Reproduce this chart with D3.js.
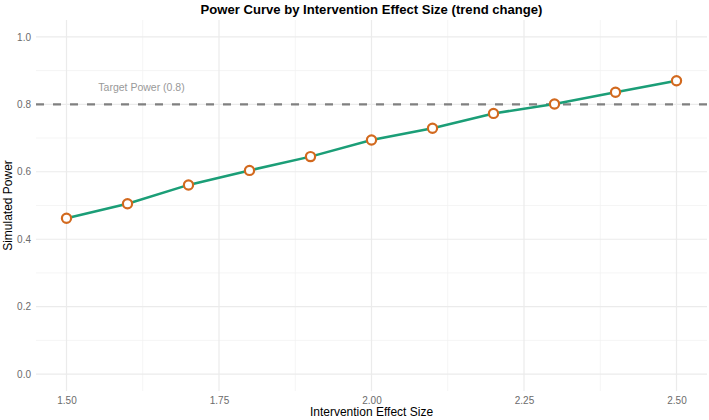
<!DOCTYPE html>
<html>
<head>
<meta charset="utf-8">
<script src="https://cdn.jsdelivr.net/npm/d3@7"></script>
<style>
  body { margin: 0; background: #fff; }
  svg { display: block; font-family: "Liberation Sans", Arial, sans-serif; }
</style>
</head>
<body>
<svg id="chart" width="709" height="420"></svg>
<script>
// effect sizes and simulated power values
var effectSizes = [1.5, 1.6, 1.7, 1.8, 1.9, 2.0, 2.1, 2.2, 2.3, 2.4, 2.5];
var powerValues = [0.462, 0.505, 0.561, 0.604, 0.645, 0.694, 0.729, 0.773, 0.801, 0.836, 0.870];
var xTicks = [1.5, 1.75, 2.0, 2.25, 2.5];
var xMinor = [1.625, 1.875, 2.125, 2.375];
var yTicks = [0, 0.2, 0.4, 0.6, 0.8, 1.0];
var yMinor = [0.1, 0.3, 0.5, 0.7, 0.9];
var targetPower = 0.8;

var svg = d3.select("#chart");
var margin = {top: 20, right: 2, bottom: 29, left: 36};
var width = 709 - margin.left - margin.right,
    height = 420 - margin.top - margin.bottom;

var x = d3.scaleLinear().domain([1.45, 2.55]).range([0, width]);
var y = d3.scaleLinear().domain([-0.05, 1.05]).range([height, 0]);

var g = svg.append("g")
  .attr("transform", "translate(" + margin.left + "," + margin.top + ")");

// grid
g.selectAll(".minor-y").data(yMinor).enter().append("line")
  .attr("x1", 0).attr("x2", width)
  .attr("y1", function(d){ return y(d); }).attr("y2", function(d){ return y(d); })
  .attr("stroke", "#f2f2f2").attr("stroke-width", 0.8);
g.selectAll(".minor-x").data(xMinor).enter().append("line")
  .attr("y1", 0).attr("y2", height)
  .attr("x1", function(d){ return x(d); }).attr("x2", function(d){ return x(d); })
  .attr("stroke", "#f2f2f2").attr("stroke-width", 0.8);
g.selectAll(".major-y").data(yTicks).enter().append("line")
  .attr("x1", 0).attr("x2", width)
  .attr("y1", function(d){ return y(d); }).attr("y2", function(d){ return y(d); })
  .attr("stroke", "#ebebeb").attr("stroke-width", 1.2);
g.selectAll(".major-x").data(xTicks).enter().append("line")
  .attr("y1", 0).attr("y2", height)
  .attr("x1", function(d){ return x(d); }).attr("x2", function(d){ return x(d); })
  .attr("stroke", "#ebebeb").attr("stroke-width", 1.2);

// axes (text only, like theme_minimal)
var xAxis = g.append("g")
  .attr("transform", "translate(0," + height + ")")
  .call(d3.axisBottom(x).tickValues(xTicks).tickFormat(d3.format(".2f")).tickSize(0).tickPadding(6));
var yAxis = g.append("g")
  .call(d3.axisLeft(y).tickValues(yTicks).tickFormat(d3.format(".1f")).tickSize(0).tickPadding(5));
[xAxis, yAxis].forEach(function(a){
  a.select(".domain").remove();
  a.selectAll("text").attr("fill", "#6b6b6b").style("font-size", "10px")
    .style("font-family", "'Liberation Sans', Arial, sans-serif");
});

// target line
g.append("line")
  .attr("x1", 0).attr("x2", width)
  .attr("y1", y(targetPower)).attr("y2", y(targetPower))
  .attr("stroke", "#808080").attr("stroke-width", 2.2)
  .attr("stroke-dasharray", "8,9");

g.append("text")
  .attr("x", x(1.623)).attr("y", y(0.85))
  .attr("dy", "0.35em")
  .attr("text-anchor", "middle")
  .attr("fill", "#999")
  .style("font-size", "10.5px")
  .text("Target Power (0.8)");

// curve
var line = d3.line()
  .x(function(d, i){ return x(effectSizes[i]); })
  .y(function(d){ return y(d); });
g.append("path")
  .datum(powerValues)
  .attr("d", line)
  .attr("fill", "none")
  .attr("stroke", "#1b9e77")
  .attr("stroke-width", 2.5);

g.selectAll(".pt").data(powerValues).enter().append("circle")
  .attr("cx", function(d, i){ return x(effectSizes[i]); })
  .attr("cy", function(d){ return y(d); })
  .attr("r", 4.6)
  .attr("fill", "#fff")
  .attr("stroke", "#d2691e")
  .attr("stroke-width", 2.2);

// titles
svg.append("text")
  .attr("x", margin.left + width / 2).attr("y", 14)
  .attr("text-anchor", "middle")
  .style("font-size", "13.1px").style("font-weight", "bold")
  .attr("fill", "#000")
  .text("Power Curve by Intervention Effect Size (trend change)");

svg.append("text")
  .attr("x", margin.left + width / 2).attr("y", 416)
  .attr("text-anchor", "middle")
  .style("font-size", "12px")
  .attr("fill", "#000")
  .text("Intervention Effect Size");

svg.append("text")
  .attr("transform", "translate(12," + (margin.top + height / 2) + ")rotate(-90)")
  .attr("text-anchor", "middle")
  .style("font-size", "12px")
  .attr("fill", "#000")
  .text("Simulated Power");
</script>
</body>
</html>
